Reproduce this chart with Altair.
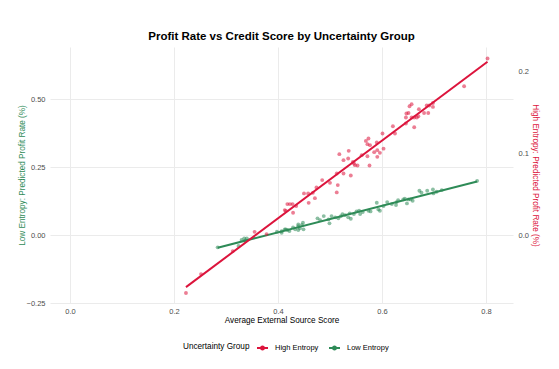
import altair as alt
import pandas as pd

RED = "#DC143C"
GREEN = "#2E8B57"

high_x = [0.223, 0.252, 0.313, 0.355, 0.378, 0.415, 0.418, 0.423, 0.428, 0.435,
          0.429, 0.413, 0.450, 0.458, 0.467, 0.459, 0.471, 0.474, 0.485, 0.500,
          0.513, 0.515, 0.513, 0.518, 0.526, 0.536, 0.535, 0.526, 0.540, 0.548,
          0.553, 0.546, 0.544, 0.576, 0.561, 0.572, 0.569, 0.574, 0.572, 0.577,
          0.585, 0.591, 0.596, 0.603, 0.591, 0.590, 0.601, 0.621, 0.625, 0.646,
          0.646, 0.647, 0.651, 0.653, 0.657, 0.657, 0.662, 0.662, 0.667, 0.670,
          0.671, 0.681, 0.689, 0.686, 0.691, 0.698, 0.698, 0.758, 0.803]
high_y = [-0.0707, -0.0476, -0.0195, 0.0040, 0.0012, 0.0296, 0.0378, 0.0378, 0.0378, 0.0354,
          0.0272, 0.0305, 0.0509, 0.0509, 0.0516, 0.0394, 0.0451, 0.0582, 0.0671, 0.0638,
          0.0521, 0.0610, 0.0752, 0.0988, 0.0915, 0.1028, 0.0935, 0.0752, 0.0728, 0.0854,
          0.0850, 0.0874, 0.0894, 0.0850, 0.0976, 0.0963, 0.1150, 0.1179, 0.1110, 0.1098,
          0.1012, 0.1037, 0.1004, 0.1055, 0.0955, 0.1130, 0.1240, 0.1329, 0.1240, 0.1362,
          0.1435, 0.1484, 0.1491, 0.1573, 0.1598, 0.1435, 0.1435, 0.1317, 0.1435, 0.1451,
          0.1537, 0.1491, 0.1491, 0.1582, 0.1582, 0.1565, 0.1613, 0.1817, 0.2155]

low_x = [0.284, 0.324, 0.330, 0.335, 0.340, 0.337, 0.398, 0.407, 0.415, 0.422,
         0.429, 0.439, 0.407, 0.413, 0.418, 0.433, 0.439, 0.442, 0.448, 0.446,
         0.449, 0.439, 0.476, 0.481, 0.488, 0.497, 0.499, 0.503, 0.510, 0.516,
         0.521, 0.524, 0.529, 0.535, 0.540, 0.538, 0.546, 0.551, 0.558, 0.556,
         0.563, 0.574, 0.578, 0.590, 0.593, 0.596, 0.603, 0.610, 0.619, 0.628,
         0.631, 0.644, 0.651, 0.627, 0.641, 0.648, 0.655, 0.659, 0.672, 0.676,
         0.687, 0.698, 0.699, 0.705, 0.715, 0.783]
low_y = [-0.0452, -0.0404, -0.0184, -0.0121, -0.0121, -0.0210, 0.0121, 0.0147, 0.0210, 0.0147,
         0.0283, 0.0393, 0.0085, 0.0210, 0.0184, 0.0210, 0.0331, 0.0246, 0.0452, 0.0368,
         0.0210, 0.0184, 0.0614, 0.0551, 0.0699, 0.0577, 0.0430, 0.0699, 0.0651, 0.0614,
         0.0699, 0.0772, 0.0735, 0.0651, 0.0599, 0.0798, 0.0772, 0.0871, 0.0772, 0.0893,
         0.0846, 0.0893, 0.0871, 0.1188, 0.0945, 0.0893, 0.1066, 0.1213, 0.1140, 0.1213,
         0.1287, 0.1335, 0.1313, 0.1103, 0.1313, 0.1165, 0.1313, 0.1261, 0.1629, 0.1555,
         0.1629, 0.1680, 0.1533, 0.1592, 0.1654, 0.1996]

groups = ["High Entropy", "Low Entropy"]

high_df = pd.DataFrame({"x": high_x, "y": high_y, "group": groups[0]})
low_df = pd.DataFrame({"x": low_x, "y": low_y, "group": groups[1]})

FONT = "Liberation Sans"
LABEL_COLOR = "#4d4d4d"
GRID = "#ebebeb"

x_enc = alt.X(
    "x:Q",
    scale=alt.Scale(domain=[-0.0385, 0.852], nice=False, zero=False),
    axis=alt.Axis(values=[0, 0.2, 0.4, 0.6, 0.8], format=".1f", domain=False, ticks=False,
                  labelFontSize=7.5, labelColor=LABEL_COLOR, labelPadding=4,
                  title="Average External Source Score", titleFontSize=8.2,
                  titleFontWeight="normal", titleColor="black", titlePadding=2,
                  gridColor=GRID, gridWidth=1),
)

legend = alt.Legend(
    title="Uncertainty Group", orient="none", direction="horizontal",
    legendX=133, legendY=294, titleOrient="left", titleFontSize=8.2,
    titleFontWeight="normal", titleColor="black", titlePadding=6,
    labelFontSize=7.5, labelColor="black", labelOffset=6, columnPadding=6,
    symbolType="M-1,0L1,0M0.28,0A0.28,0.28,0,1,1,-0.28,0A0.28,0.28,0,1,1,0.28,0Z",
    symbolSize=121, symbolStrokeWidth=2, symbolOpacity=1,
)
group_scale = alt.Scale(domain=groups, range=[RED, GREEN])
fill_enc = alt.Fill("group:N", scale=group_scale, legend=legend)
stroke_enc = alt.Stroke("group:N", scale=group_scale, legend=legend)

low_y_enc = alt.Y(
    "y:Q",
    scale=alt.Scale(domain=[-0.25, 0.692], nice=False, zero=False),
    axis=alt.Axis(values=[-0.25, 0, 0.25, 0.5], format=".2f", domain=False, ticks=False,
                  labelFontSize=7.5, labelColor=LABEL_COLOR, labelPadding=5,
                  title="Low Entropy: Predicted Profit Rate (%)", titleFontSize=8.2,
                  titleFontWeight="normal", titleColor=GREEN, titlePadding=0,
                  gridColor=GRID, gridWidth=1),
)
high_y_enc = alt.Y(
    "y:Q",
    scale=alt.Scale(domain=[-0.0829, 0.2296], nice=False, zero=False),
    axis=alt.Axis(values=[0, 0.1, 0.2], format=".1f", domain=False, ticks=False, grid=False,
                  orient="right", labelFontSize=7.5, labelColor=LABEL_COLOR, labelPadding=5,
                  title="High Entropy: Predicted Profit Rate (%)", titleFontSize=8.2,
                  titleFontWeight="normal", titleColor=RED, titlePadding=2),
)

low_pts = alt.Chart(low_df).mark_circle(size=15, opacity=0.55).encode(
    x=x_enc, y=low_y_enc, fill=fill_enc)
low_line = alt.Chart(low_df).transform_regression("x", "y", groupby=["group"]).mark_line(
    strokeWidth=2).encode(x=x_enc, y=low_y_enc, stroke=stroke_enc)
high_pts = alt.Chart(high_df).mark_circle(size=15, opacity=0.55).encode(
    x=x_enc, y=high_y_enc, fill=fill_enc)
high_line = alt.Chart(high_df).transform_regression("x", "y", groupby=["group"]).mark_line(
    strokeWidth=2).encode(x=x_enc, y=high_y_enc, stroke=stroke_enc)

low_layer = alt.layer(low_pts, low_line)
high_layer = alt.layer(high_pts, high_line)

chart = alt.layer(low_layer, high_layer).resolve_scale(y="independent").properties(
    width=463, height=256,
    title=alt.TitleParams("Profit Rate vs Credit Score by Uncertainty Group", fontSize=11.5,
                          fontWeight="bold", anchor="middle", offset=5, color="black", font=FONT),
    padding={"left": 42, "top": 39, "right": 38, "bottom": 58},
    autosize=alt.AutoSizeParams(type="none"),
).configure(font=FONT).configure_view(stroke=None)

chart.save("out.html", embed_options={"renderer": "svg", "actions": False})
